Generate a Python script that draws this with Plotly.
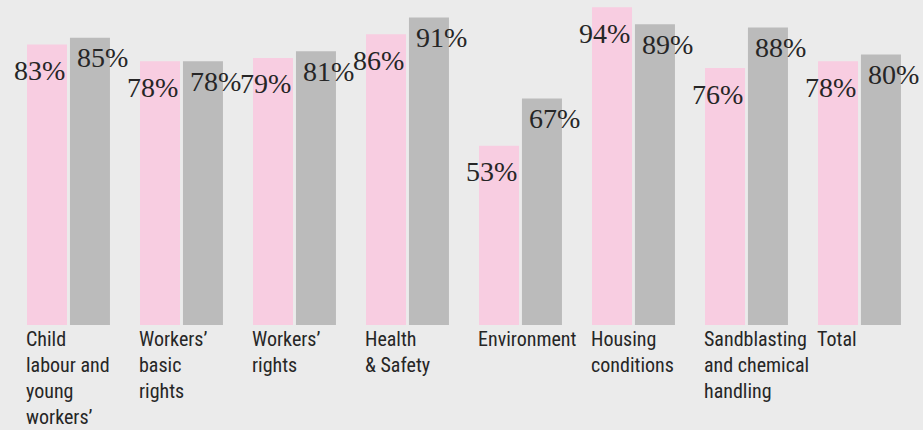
import plotly.graph_objects as go

categories = ["Child<br>labour and<br>young<br>workers’", "Workers’<br>basic<br>rights",
              "Workers’<br>rights", "Health<br>& Safety", "Environment",
              "Housing<br>conditions", "Sandblasting<br>and chemical<br>handling", "Total"]
pink_values = [83, 78, 79, 86, 53, 94, 76, 78]
gray_values = [85, 78, 81, 91, 67, 89, 88, 80]

PINK = "#f8cde1"
GRAY = "#bbbbbb"
BG = "#ebebeb"
TXT = "#262626"

idx = list(range(len(categories)))
off = 0.19
bw = 0.354

fig = go.Figure()
fig.add_trace(go.Bar(x=[i - off for i in idx], y=pink_values, width=bw,
                     marker=dict(color=PINK, line=dict(width=0)), hoverinfo="skip"))
fig.add_trace(go.Bar(x=[i + off for i in idx], y=gray_values, width=bw,
                     marker=dict(color=GRAY, line=dict(width=0)), hoverinfo="skip"))

annotations = []
for i, (p, g) in enumerate(zip(pink_values, gray_values)):
    annotations.append(dict(x=i - off + bw / 2, y=p, xref="x", yref="y",
                            text=f"{p}%", showarrow=False, xanchor="right", yanchor="middle",
                            yshift=-26, font=dict(family="Liberation Serif, serif", size=28, color=TXT)))
    annotations.append(dict(x=i + off - bw / 2, y=g, xref="x", yref="y",
                            text=f"{g}%", showarrow=False, xanchor="left", yanchor="middle",
                            xshift=5, yshift=-20, font=dict(family="Liberation Serif, serif", size=28, color=TXT)))
    annotations.append(dict(x=i - off - bw / 2, y=0, xref="x", yref="paper",
                            text=categories[i], showarrow=False, xanchor="left", yanchor="top",
                            align="left", xshift=-3, yshift=0,
                            font=dict(family="Liberation Sans Narrow, Roboto Condensed, Roboto, sans-serif",
                                      size=20, color=TXT)))

fig.update_layout(
    width=923, height=430,
    margin=dict(l=0, r=0, t=0, b=105),
    paper_bgcolor=BG, plot_bgcolor=BG,
    showlegend=False,
    xaxis=dict(range=[-0.606, 7.562], visible=False, fixedrange=True),
    yaxis=dict(range=[0, 96.15], visible=False, fixedrange=True),
    annotations=annotations,
)

fig.write_html("out.html", config={"displayModeBar": False},
               post_script="document.body.style.margin='0';document.body.style.background='#ebebeb';")
